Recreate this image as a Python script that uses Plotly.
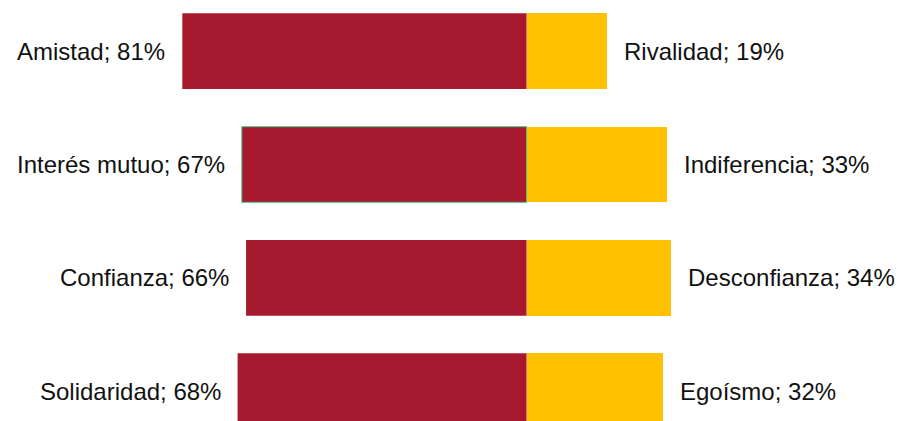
import plotly.graph_objects as go

positive_labels = ["Amistad", "Interés mutuo", "Confianza", "Solidaridad"]
positive_values = [81, 67, 66, 68]
negative_labels = ["Rivalidad", "Indiferencia", "Desconfianza", "Egoísmo"]
negative_values = [19, 33, 34, 32]

RED = "#A6192E"
YELLOW = "#FFC000"
rows = list(range(len(positive_labels)))

fig = go.Figure()
fig.add_trace(go.Bar(
    y=rows, x=[-v for v in positive_values], orientation="h",
    marker=dict(color=RED,
                line=dict(color=[RED, "#4CC38A", RED, RED], width=[0, 1, 0, 0])),
    width=0.668, hoverinfo="skip", showlegend=False,
))
fig.add_trace(go.Bar(
    y=rows, x=negative_values, orientation="h",
    marker=dict(color=YELLOW, line=dict(width=0)),
    width=0.668, hoverinfo="skip", showlegend=False,
))

font = dict(family="Liberation Sans, Arial, sans-serif", size=24, color="#111111")
for r, lab, v in zip(rows, positive_labels, positive_values):
    fig.add_annotation(x=-v, y=r, text=f"{lab}; {v}%", showarrow=False,
                       xanchor="right", yanchor="middle", xshift=-15, font=font)
for r, lab, v in zip(rows, negative_labels, negative_values):
    fig.add_annotation(x=v, y=r, text=f"{lab}; {v}%", showarrow=False,
                       xanchor="left", yanchor="middle", xshift=15, font=font)

fig.update_layout(
    width=901, height=421,
    margin=dict(l=0, r=0, t=0, b=0),
    barmode="relative", bargap=0,
    plot_bgcolor="white", paper_bgcolor="white",
    xaxis=dict(range=[-123.9, 88.1], visible=False, fixedrange=True),
    yaxis=dict(range=[3.264, -0.452], visible=False, fixedrange=True),
)
fig.write_html("out.html", config={"displayModeBar": False, "staticPlot": True},
               post_script="document.body.style.margin='0';document.body.style.overflow='hidden';")
